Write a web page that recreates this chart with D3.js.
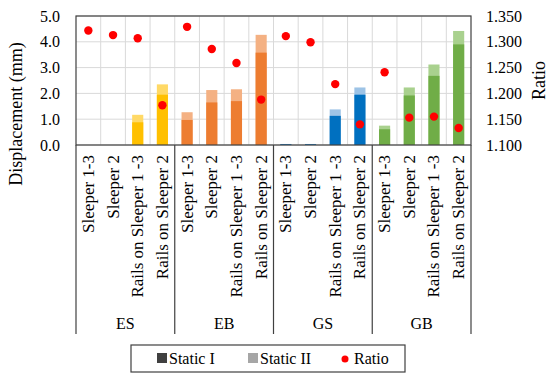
<!DOCTYPE html>
<html>
<head>
<meta charset="utf-8">
<script src="https://cdn.jsdelivr.net/npm/d3@7"></script>
<style>
  body { margin: 0; background: #fff; }
</style>
</head>
<body>
<svg id="chart" width="550" height="379"></svg>
<script>
// Data
const groups = ["ES", "EB", "GS", "GB"];
const locations = ["Sleeper 1-3", "Sleeper 2", "Rails on Sleeper 1 -3", "Rails on Sleeper 2"];
const staticI = [0, 0, 0.88, 1.95, 0.97, 1.65, 1.70, 3.58, 0.03, 0.03, 1.13, 1.95, 0.61, 1.92, 2.68, 3.90];
const staticII = [0, 0, 1.17, 2.35, 1.27, 2.13, 2.16, 4.27, 0.04, 0.04, 1.38, 2.23, 0.75, 2.23, 3.12, 4.42];
const ratio = [1.322, 1.313, 1.307, 1.177, 1.329, 1.286, 1.259, 1.188, 1.311, 1.299, 1.218, 1.140, 1.241, 1.153, 1.155, 1.133];
const leftTicks = [0, 1, 2, 3, 4, 5];
const rightTicks = [1.10, 1.15, 1.20, 1.25, 1.30, 1.35];
const darkColors = ["#FFC000", "#ED7D31", "#0070C0", "#70AD47"];
const lightColors = ["#FFD966", "#F4B183", "#9DC3E6", "#A9D18E"];

const FONT = '"Liberation Serif"';

const svg = d3.select("#chart");
const margin = {top: 16, left: 76, right: 79, bottom: 234};
const width = 550 - margin.left - margin.right;
const height = 379 - margin.top - margin.bottom;

const chart = svg.append("g").attr("transform", `translate(${margin.left},${margin.top})`);

// Columns, one per group/location pair
const keys = [];
groups.forEach((g, gi) => locations.forEach((l, li) => keys.push({g, l, gi, i: gi * locations.length + li})));

const x = d3.scaleBand().domain(keys.map(k => k.i)).range([0, width]).padding(0);
const y = d3.scaleLinear().domain([0, 5]).range([height, 0]);
const y2 = d3.scaleLinear().domain([1.1, 1.35]).range([height, 0]);

// Gridlines
chart.append("g").selectAll("line")
    .data(leftTicks)
    .enter().append("line")
    .attr("x1", 0).attr("x2", width)
    .attr("y1", d => y(d)).attr("y2", d => y(d))
    .style("stroke", "#d9d9d9");

chart.append("g").selectAll("line")
    .data(keys.slice(1))
    .enter().append("line")
    .attr("x1", d => x(d.i)).attr("x2", d => x(d.i))
    .attr("y1", 0).attr("y2", height)
    .style("stroke", "#d9d9d9");

// Bars: Static II behind, Static I in front
const barW = x.bandwidth() * 0.45;
chart.append("g").selectAll("rect")
    .data(keys)
    .enter().append("rect")
    .attr("x", d => x(d.i) + (x.bandwidth() - barW) / 2)
    .attr("width", barW)
    .attr("y", d => y(staticII[d.i]))
    .attr("height", d => height - y(staticII[d.i]))
    .attr("fill", d => lightColors[d.gi]);

chart.append("g").selectAll("rect")
    .data(keys)
    .enter().append("rect")
    .attr("x", d => x(d.i) + (x.bandwidth() - barW) / 2)
    .attr("width", barW)
    .attr("y", d => y(staticI[d.i]))
    .attr("height", d => height - y(staticI[d.i]))
    .attr("fill", d => darkColors[d.gi]);

// Ratio dots
chart.append("g").selectAll("circle")
    .data(keys)
    .enter().append("circle")
    .attr("cx", d => x(d.i) + x.bandwidth() / 2)
    .attr("cy", d => y2(ratio[d.i]))
    .attr("r", 4.2)
    .attr("fill", "#FF0000");

// Plot frame
chart.append("rect")
    .attr("width", width).attr("height", height)
    .attr("fill", "none")
    .style("stroke", "#404040")
    .style("stroke-width", 1.2);

// Axes
const yAxis = d3.axisLeft(y).tickValues(leftTicks).tickFormat(d3.format(".1f")).tickSize(0).tickPadding(16);
const yAxisRight = d3.axisRight(y2).tickValues(rightTicks).tickFormat(d3.format(".3f")).tickSize(0).tickPadding(15);

chart.append("g").call(yAxis)
    .call(g => g.select(".domain").remove())
    .selectAll("text").style("font-size", "16px").style("font-family", FONT).style("fill", "#000");

chart.append("g").attr("transform", `translate(${width},0)`).call(yAxisRight)
    .call(g => g.select(".domain").remove())
    .selectAll("text").style("font-size", "16px").style("font-family", FONT).style("fill", "#000");

// Category labels
chart.append("g").selectAll("text")
    .data(keys)
    .enter().append("text")
    .attr("transform", d => `translate(${x(d.i) + x.bandwidth() / 2 + 5.5},${height + 10}) rotate(-90)`)
    .style("text-anchor", "end")
    .style("font-family", FONT)
    .style("font-size", "17px")
    .text(d => d.l);

// Group dividers below the axis
const groupW = x.bandwidth() * locations.length;
chart.append("g").selectAll("line")
    .data(d3.range(groups.length + 1))
    .enter().append("line")
    .attr("x1", d => d * groupW).attr("x2", d => d * groupW)
    .attr("y1", height).attr("y2", height + 189)
    .style("stroke", "#404040")
    .style("stroke-width", 1.2);

chart.append("g").selectAll("text")
    .data(groups)
    .enter().append("text")
    .attr("x", (d, i) => i * groupW + groupW / 2)
    .attr("y", height + 184)
    .style("text-anchor", "middle")
    .style("font-family", FONT)
    .style("font-size", "16px")
    .text(d => d);

// Axis titles
svg.append("text")
    .attr("transform", "translate(22,114) rotate(-90)")
    .style("text-anchor", "middle")
    .style("font-family", FONT)
    .style("font-size", "18px")
    .text("Displacement (mm)");

svg.append("text")
    .attr("transform", `translate(545,${margin.top + height / 2}) rotate(-90)`)
    .style("text-anchor", "middle")
    .style("font-family", FONT)
    .style("font-size", "18px")
    .text("Ratio");

// Legend
const legend = svg.append("g").attr("transform", "translate(131,345)");
legend.append("rect")
    .attr("width", 274).attr("height", 27)
    .attr("fill", "#fff")
    .style("stroke", "#404040")
    .style("stroke-width", 1.2);

const legendItems = [
    {label: "Static I", color: "#404040", type: "square", x: 26},
    {label: "Static II", color: "#A6A6A6", type: "square", x: 117},
    {label: "Ratio", color: "#FF0000", type: "dot", x: 211}
];

legendItems.forEach(item => {
    if (item.type === "square") {
        legend.append("rect")
            .attr("x", item.x).attr("y", 8)
            .attr("width", 10).attr("height", 10)
            .attr("fill", item.color);
    } else {
        legend.append("circle")
            .attr("cx", item.x + 3).attr("cy", 14)
            .attr("r", 3.5)
            .attr("fill", item.color);
    }
    legend.append("text")
        .attr("x", item.x + 12)
        .attr("y", 19)
        .style("font-family", FONT)
        .style("font-size", "16px")
        .text(item.label);
});
</script>
</body>
</html>
